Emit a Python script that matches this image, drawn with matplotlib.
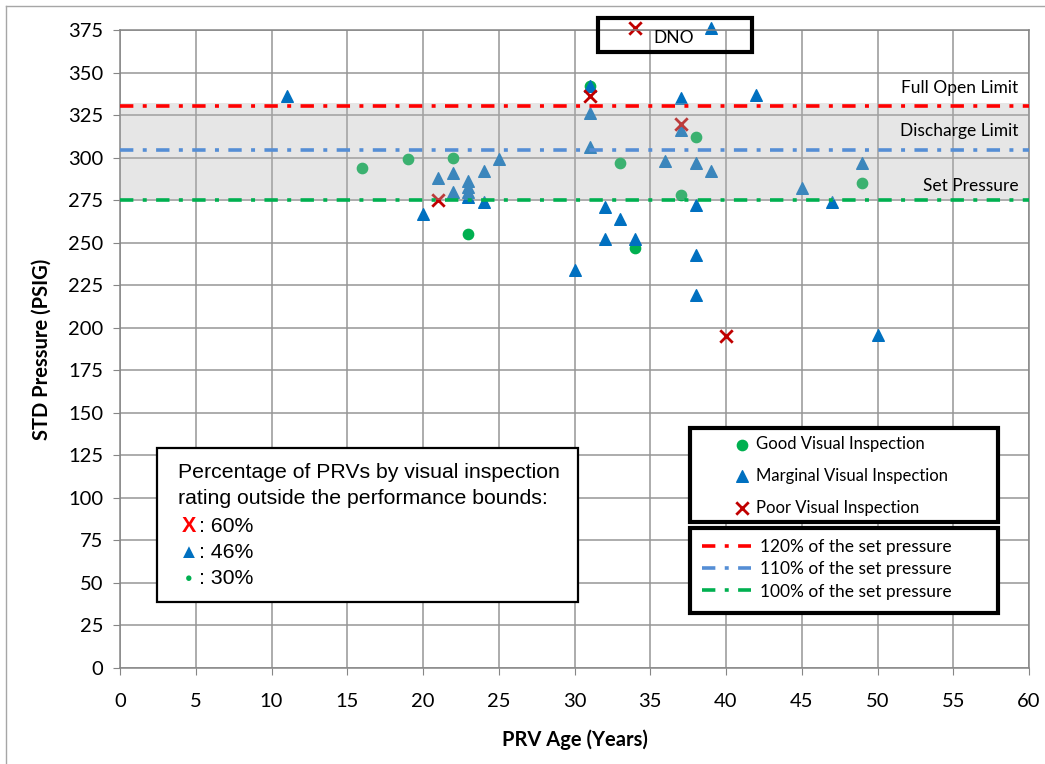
import matplotlib
matplotlib.use('Agg')
import matplotlib.pyplot as plt
from matplotlib.patches import Rectangle
from matplotlib.lines import Line2D

# data
good_age = [16, 19, 22, 23, 31, 33, 34, 37, 38, 49]
good_psig = [294, 299, 300, 255, 342, 297, 247, 278, 312, 285]

marginal_age = [11, 20, 21, 22, 22, 23, 23, 23, 23, 24, 24, 25, 30, 31, 31, 31, 32,
                32, 33, 34, 36, 37, 37, 38, 38, 38, 38, 39, 39, 42, 45, 47, 49, 50]
marginal_psig = [336, 267, 288, 291, 280, 286, 283, 280, 277, 292, 274, 299, 234, 342,
                 326, 306, 271, 252, 264, 252, 298, 335, 316, 297, 272, 243, 219, 292,
                 376, 337, 282, 274, 297, 196]

poor_age = [21, 31, 34, 37, 40]
poor_psig = [275, 336, 376, 320, 195]

limit_values = [330.5, 304.5, 275]
limit_names = ['120% of the set pressure', '110% of the set pressure',
               '100% of the set pressure']
limit_labels = ['Full Open Limit', 'Discharge Limit', 'Set Pressure']
limit_colors = ['#FF0000', '#558ED5', '#00B050']

pct_symbols = ['X', '\u25B2', '\u25CF']
pct_values = [': 60%', ': 46%', ': 30%']
pct_colors = ['#FF0000', '#0070C0', '#00B050']

calib = ['Lato', 'DejaVu Sans']
plt.rcParams['font.family'] = calib

fig = plt.figure(figsize=(10.45, 7.64), dpi=100)
ax = fig.add_axes([120 / 1045, 96 / 764, 909 / 1045, 638 / 764])

# outer chart border (left and top visible)
fig.add_artist(Line2D([6 / 1045, 6 / 1045], [0, 1 - 6 / 764], color='#a6a6a6', lw=1))
fig.add_artist(Line2D([6 / 1045, 1], [1 - 6 / 764, 1 - 6 / 764], color='#a6a6a6', lw=1))

ax.set_xlim(0, 60)
ax.set_ylim(0, 375)
ax.set_xticks(range(0, 61, 5))
ax.set_yticks(range(0, 376, 25))
ax.grid(True, color='#969696', lw=1.1, zorder=0)
ax.set_axisbelow(True)
for s in ax.spines.values():
    s.set_color('#868686')
    s.set_linewidth(1.1)
ax.tick_params(direction='out', length=5, color='#868686', labelsize=14.5)
ax.tick_params(axis='x', pad=13)
ax.tick_params(axis='y', pad=7)

# points
good = ax.scatter(good_age, good_psig, marker='o', s=55, color='#00B050',
                  zorder=2, clip_on=False, label='Good Visual Inspection')
marg = ax.scatter(marginal_age, marginal_psig, marker='^', s=70, color='#0070C0',
                  zorder=2, clip_on=False, label='Marginal Visual Inspection')
poor = ax.scatter(poor_age, poor_psig, marker='x', s=80, color='#C00000', lw=2,
                  zorder=2, clip_on=False, label='Poor Visual Inspection')

# performance band
ax.axhspan(limit_values[2], 332, color='#b4b4b4', alpha=0.33, lw=0, zorder=3)

lines = []
for v, c, n in zip(limit_values, limit_colors, limit_names):
    ln, = ax.plot([0, 60], [v, v], color=c, lw=2.6, ls=(0, (3.7, 2.6, 1.1, 2.6)),
                  zorder=4, label=n)
    lines.append(ln)

for v, t in zip([341, 315.5, 283.3], limit_labels):
    ax.text(59.3, v, t, ha='right', va='center', fontsize=12.5, zorder=5)

# DNO box
ax.add_patch(Rectangle((478 / 909, 616 / 638), 154 / 909, 34 / 638, transform=ax.transAxes,
                       fill=False, ec='black', lw=3, clip_on=False, zorder=6))
ax.text((674 - 120) / 909, (668 - 38) / 638, 'DNO', transform=ax.transAxes,
        ha='center', va='center', fontsize=12.5, zorder=6)

# legend boxes
ax.add_patch(Rectangle((570 / 909, 146 / 638), 308 / 909, 94 / 638, transform=ax.transAxes,
                       fc='white', ec='black', lw=3, zorder=6))
ax.add_patch(Rectangle((570 / 909, 55 / 638), 308 / 909, 85 / 638, transform=ax.transAxes,
                       fc='white', ec='black', lw=3, zorder=6))

leg1 = ax.legend(handles=[good, marg, poor], loc='upper left',
                 bbox_to_anchor=((734 - 120) / 909, (668 - 436) / 638),
                 frameon=False, fontsize=12, handlelength=1, handletextpad=0.3,
                 labelspacing=0.95, borderpad=0, borderaxespad=0)
leg1.set_zorder(7)
ax.add_artist(leg1)
leg2 = ax.legend(handles=lines, loc='upper left',
                 bbox_to_anchor=((702 - 120) / 909, (668 - 539) / 638),
                 frameon=False, fontsize=12.5, handlelength=2.8, handletextpad=0.55,
                 labelspacing=0.36, borderpad=0, borderaxespad=0)
leg2.set_zorder(7)

# percentage box
ax.add_patch(Rectangle((37 / 909, 66 / 638), 421 / 909, 154 / 638, transform=ax.transAxes,
                       fc='white', ec='black', lw=1.6, zorder=6))
arial = ['Liberation Sans', 'DejaVu Sans']
ax.text(58 / 909, 195 / 638, 'Percentage of PRVs by visual inspection', transform=ax.transAxes,
        ha='left', va='center', fontsize=15.3, family=arial, zorder=7)
ax.text(58 / 909, 170 / 638, 'rating outside the performance bounds:', transform=ax.transAxes,
        ha='left', va='center', fontsize=15.3, family=arial, zorder=7)
for i, (sym, val, col) in enumerate(zip(pct_symbols, pct_values, pct_colors)):
    y = (142 - 26.5 * i) / 638
    size = [15.5, 14.5, 9][i]
    ax.text(68.5 / 909, y, sym, transform=ax.transAxes, ha='center', va='center',
            fontsize=size, color=col, fontweight='bold', family=arial, zorder=7)
    ax.text(79 / 909, y, val, transform=ax.transAxes, ha='left', va='center',
            fontsize=15.3, family=arial, zorder=7)

ax.set_xlabel('PRV Age (Years)', fontsize=14.5, fontweight='bold', labelpad=14)
ax.set_ylabel('STD Pressure (PSIG)', fontsize=14.5, fontweight='bold', labelpad=12)

fig.savefig('out.png', dpi=100)
